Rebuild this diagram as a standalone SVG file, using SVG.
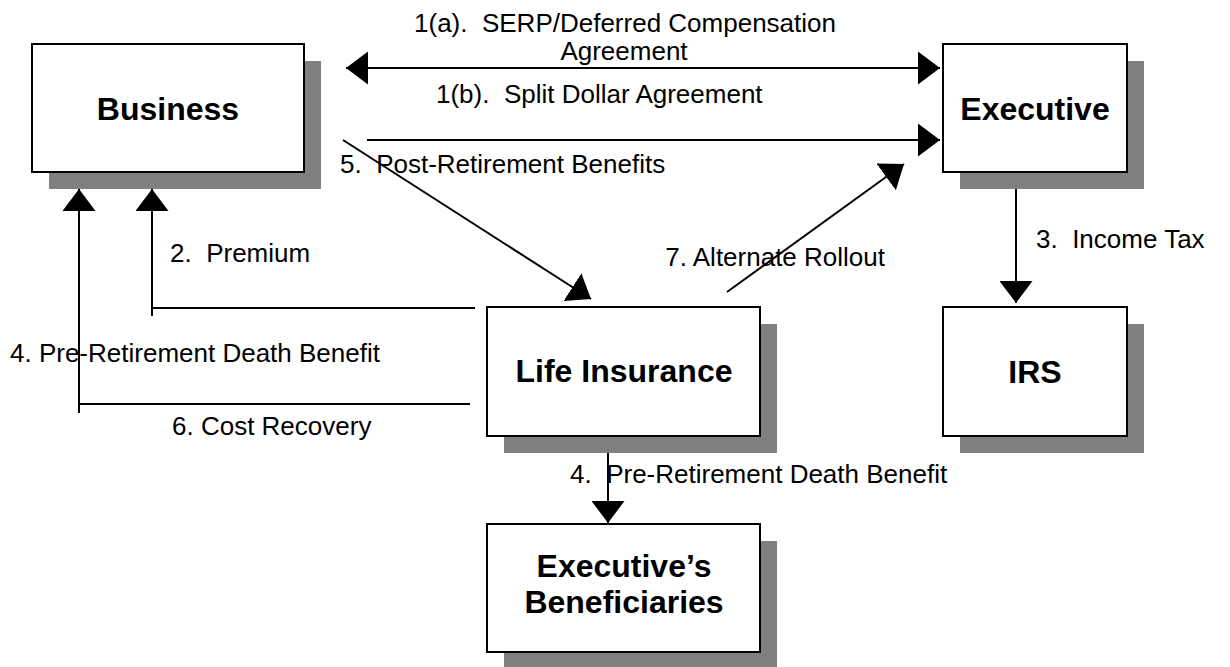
<svg xmlns="http://www.w3.org/2000/svg" width="1230" height="667" viewBox="0 0 1230 667">
<style>
.shadow{fill:#808080;stroke:none}
.box{fill:#fff;stroke:#000;stroke-width:2}
.node{font-family:"Liberation Sans",Arial,sans-serif;font-weight:bold;font-size:32px;fill:#000;text-anchor:middle}
.lbl{font-family:"Liberation Sans",Arial,sans-serif;font-size:26px;fill:#000;white-space:pre}
.ln{fill:none;stroke:#000;stroke-width:2}
</style>
<defs>
<marker id="ah" markerUnits="userSpaceOnUse" markerWidth="22" markerHeight="33" refX="22" refY="16.5" orient="auto-start-reverse" viewBox="0 0 22 33">
<path d="M0,0 L22,16.5 L0,33 z" fill="#000"/>
</marker>
</defs>
<rect width="1230" height="667" fill="#fff"/>
<g id="business">
<rect class="shadow" x="49" y="61" width="272" height="128"/>
<rect class="box" x="32" y="44" width="272" height="128"/>
<text class="node" x="168" y="120">Business</text>
</g>
<g id="executive">
<rect class="shadow" x="960" y="61" width="184" height="128"/>
<rect class="box" x="943" y="44" width="184" height="128"/>
<text class="node" x="1035" y="120">Executive</text>
</g>
<g id="life-insurance">
<rect class="shadow" x="504" y="324" width="273" height="129"/>
<rect class="box" x="487" y="307" width="273" height="129"/>
<text class="node" x="624" y="382">Life Insurance</text>
</g>
<g id="irs">
<rect class="shadow" x="960" y="324" width="184" height="129"/>
<rect class="box" x="943" y="307" width="184" height="129"/>
<text class="node" x="1035" y="383">IRS</text>
</g>
<g id="beneficiaries">
<rect class="shadow" x="504" y="541" width="273" height="128"/>
<rect class="box" x="487" y="524" width="273" height="128"/>
<text class="node" x="624" y="577">Executive’s</text>
<text class="node" x="624" y="613">Beneficiaries</text>
</g>
<g id="connectors">
<line class="ln" x1="346" y1="68" x2="940" y2="68" marker-start="url(#ah)" marker-end="url(#ah)"/>
<line class="ln" x1="367" y1="140" x2="940" y2="140" marker-end="url(#ah)"/>
<line class="ln" x1="343" y1="140" x2="591" y2="299" marker-end="url(#ah)"/>
<line class="ln" x1="727" y1="292" x2="904" y2="164" marker-end="url(#ah)"/>
<line class="ln" x1="1016" y1="189" x2="1016" y2="303" marker-end="url(#ah)"/>
<line class="ln" x1="608" y1="453" x2="608" y2="523" marker-end="url(#ah)"/>
<polyline class="ln" points="475,308 152,308"/>
<line class="ln" x1="152" y1="316" x2="152" y2="189" marker-end="url(#ah)"/>
<polyline class="ln" points="470,404 79,404"/>
<line class="ln" x1="79" y1="413" x2="79" y2="189" marker-end="url(#ah)"/>
</g>
<g id="labels">
<text class="lbl" x="625" y="32" text-anchor="middle">1(a).  SERP/Deferred Compensation</text>
<text class="lbl" x="624" y="60" text-anchor="middle">Agreement</text>
<text class="lbl" x="436" y="103">1(b).  Split Dollar Agreement</text>
<text class="lbl" x="340" y="173">5.  Post-Retirement Benefits</text>
<text class="lbl" x="170" y="262">2.  Premium</text>
<text class="lbl" x="885" y="266" text-anchor="end">7. Alternate Rollout</text>
<text class="lbl" x="1036" y="248">3.  Income Tax</text>
<text class="lbl" x="10" y="362">4. Pre-Retirement Death Benefit</text>
<text class="lbl" x="172" y="435">6. Cost Recovery</text>
<text class="lbl" x="570" y="483">4.  Pre-Retirement Death Benefit</text>
</g>
</svg>
